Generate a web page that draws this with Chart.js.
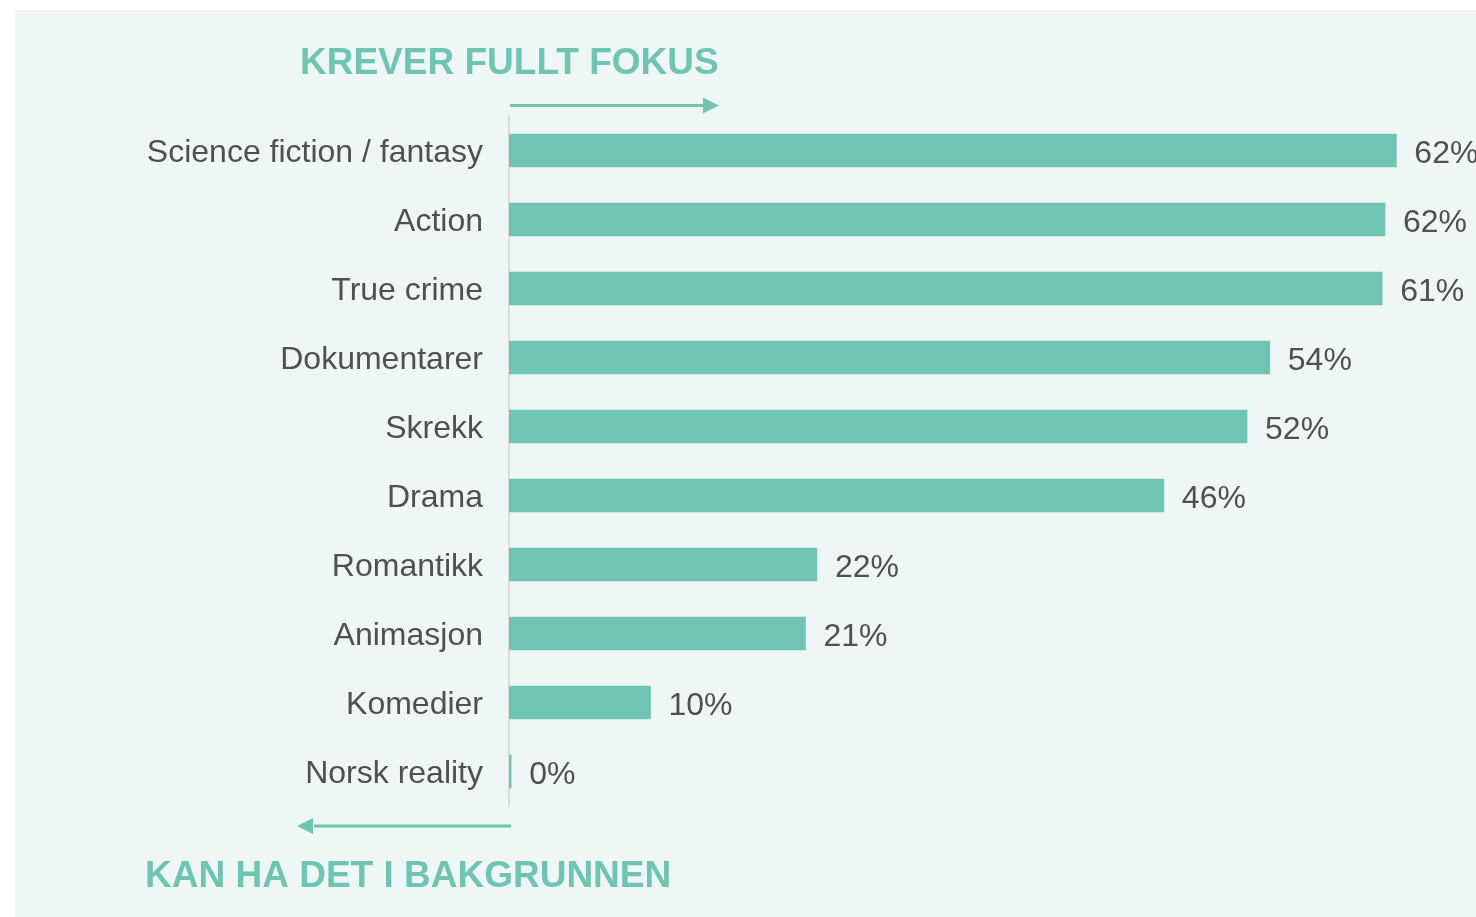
<!DOCTYPE html>
<html>
<head>
<meta charset="utf-8">
<script src="https://cdn.jsdelivr.net/npm/chart.js@4.4.1/dist/chart.umd.min.js"></script>
<style>
  body { margin: 0; background: #fff; }
  #panel { position: absolute; left: 15px; top: 10px; width: 1461px; height: 907px; background: #eef7f5; }
</style>
</head>
<body>
<div id="panel"><canvas id="chart" width="1461" height="907"></canvas></div>
<script>
// Data
const categories = ['Science fiction / fantasy', 'Action', 'True crime', 'Dokumentarer', 'Skrekk', 'Drama', 'Romantikk', 'Animasjon', 'Komedier', 'Norsk reality'];
const values = [62.4, 61.6, 61.4, 53.5, 51.9, 46.05, 21.65, 20.85, 9.95, 0.15];
const valueLabels = ['62%', '62%', '61%', '54%', '52%', '46%', '22%', '21%', '10%', '0%'];
const topTitle = 'KREVER FULLT FOKUS';
const bottomTitle = 'KAN HA DET I BAKGRUNNEN';

const teal = '#70c4b4';
const grey = '#505050';

// value labels next to each bar
const barLabels = {
  id: 'barLabels',
  afterDatasetsDraw(chart) {
    const ctx = chart.ctx;
    const meta = chart.getDatasetMeta(0);
    ctx.save();
    ctx.font = '32px "Liberation Sans", Arial, sans-serif';
    ctx.fillStyle = grey;
    ctx.textBaseline = 'middle';
    ctx.textAlign = 'left';
    meta.data.forEach((bar, i) => {
      ctx.fillText(valueLabels[i], bar.x + 18, bar.y + 4);
    });
    ctx.restore();
  }
};

// headings + arrows
const arrows = {
  id: 'arrows',
  afterDraw(chart) {
    const ctx = chart.ctx;
    const x0 = chart.scales.x.getPixelForValue(0);
    ctx.save();
    ctx.fillStyle = teal;
    ctx.strokeStyle = teal;
    ctx.lineWidth = 3;
    ctx.font = 'bold 37px "Liberation Sans", Arial, sans-serif';
    ctx.textBaseline = 'alphabetic';
    ctx.fillText(topTitle, 285, 64);
    ctx.fillText(bottomTitle, 130, 877);

    // top arrow ->
    let y = 95.5;
    ctx.beginPath(); ctx.moveTo(x0 + 1, y); ctx.lineTo(x0 + 195, y); ctx.stroke();
    ctx.beginPath(); ctx.moveTo(x0 + 210, y); ctx.lineTo(x0 + 194, y - 8); ctx.lineTo(x0 + 194, y + 8); ctx.closePath(); ctx.fill();

    // bottom arrow <-
    y = 816;
    ctx.beginPath(); ctx.moveTo(x0 + 2, y); ctx.lineTo(x0 - 195, y); ctx.stroke();
    ctx.beginPath(); ctx.moveTo(x0 - 212, y); ctx.lineTo(x0 - 196, y - 8); ctx.lineTo(x0 - 196, y + 8); ctx.closePath(); ctx.fill();
    ctx.restore();
  }
};

new Chart(document.getElementById('chart').getContext('2d'), {
  type: 'bar',
  data: {
    labels: categories,
    datasets: [{ data: values, backgroundColor: teal, barThickness: 33 }]
  },
  options: {
    indexAxis: 'y',
    responsive: false,
    devicePixelRatio: 1,
    animation: false,
    layout: { padding: { top: 106, bottom: 111, right: 0, left: 0 } },
    plugins: { legend: { display: false }, tooltip: { enabled: false } },
    scales: {
      x: { display: false, min: 0, max: 68 },
      y: {
        afterFit(scale) { scale.width = 494; },
        grid: { display: false, drawTicks: false },
        border: { display: true, color: '#dcdcdc', width: 2 },
        ticks: {
          padding: 26,
          labelOffset: 3,
          color: grey,
          font: { family: '"Liberation Sans", Arial, sans-serif', size: 32 }
        }
      }
    }
  },
  plugins: [barLabels, arrows]
});
</script>
</body>
</html>
